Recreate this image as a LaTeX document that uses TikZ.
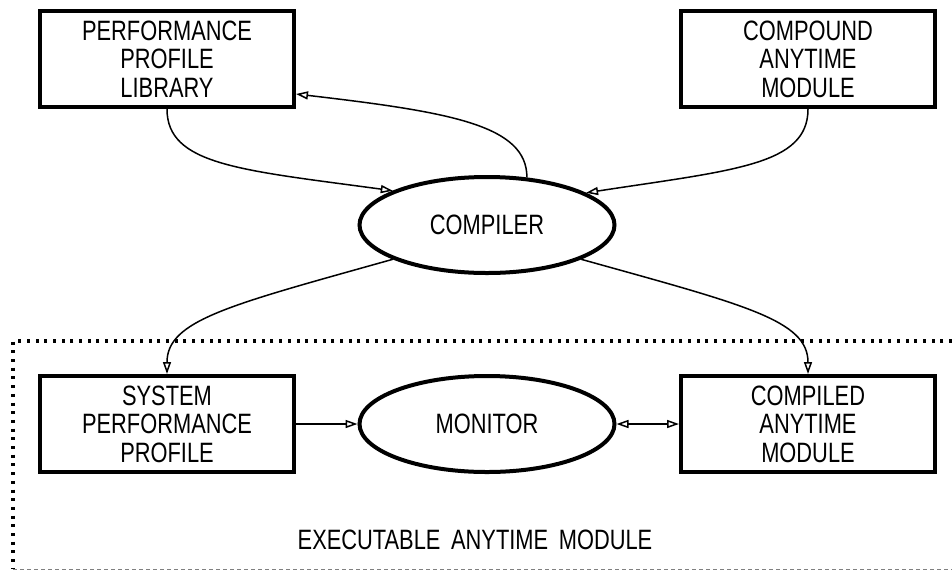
\documentclass[tikz,border=0pt]{standalone}
\usepackage{fontspec}
\setmainfont{Liberation Sans}[FakeStretch=0.78]
\usetikzlibrary{arrows.meta,shapes.geometric}
\begin{document}
\begin{tikzpicture}[x=1pt,y=-1pt,
  font=\fontsize{28}{28.5}\selectfont,
  boxnode/.style={draw, line width=4pt, rectangle, minimum width=254pt, minimum height=96pt, inner sep=0pt, align=center},
  ellnode/.style={draw, line width=4pt, ellipse, minimum width=255pt, minimum height=96pt, inner sep=0pt, align=center},
  conn/.style={line width=1.5pt, -{Triangle[open, length=12pt, width=8pt]}},
  bconn/.style={line width=1.5pt, {Triangle[open, length=12pt, width=8pt]}-{Triangle[open, length=12pt, width=8pt]}},
  framedot/.style={line width=3.5pt, dash pattern=on 3pt off 5.7pt},
  framedash/.style={line width=1pt, gray, dash pattern=on 4pt off 3pt}
]
\useasboundingbox (0,0) rectangle (952,571);
% frame
\coordinate (fTR) at (952,341);
\coordinate (fTL) at (13,341);
\coordinate (fBL) at (13,569);
\coordinate (fBR) at (952,569);
\draw[framedot] (fTR) -- (fTL) -- (fBL);
\draw[framedash] (fBL) -- (fBR);
% nodes
\node[boxnode] (ppl) at (167,59) {PERFORMANCE\\PROFILE\\LIBRARY};
\node[boxnode] (cam) at (808,59) {COMPOUND\\ANYTIME\\MODULE};
\node[ellnode] (comp) at (487,225) {COMPILER};
\node[boxnode] (spp) at (167,424) {SYSTEM\\PERFORMANCE\\PROFILE};
\node[ellnode] (mon) at (487,424) {MONITOR};
\node[boxnode] (cmp) at (808,424) {COMPILED\\ANYTIME\\MODULE};
\node (lbl) at (475,540) {EXECUTABLE\hspace{0.38em}ANYTIME\hspace{0.38em}MODULE};
% connectors
\draw[conn] (ppl.south) .. controls (167,165) and (240,170) .. (comp.160);
\draw[conn] (comp.50) .. controls (527,125) and (450,112) .. ([yshift=-35pt]ppl.east);
\draw[conn] (cam.south) .. controls (808,165) and (735,170) .. (comp.18);
\draw[conn] (comp.200) .. controls (230,305) and (167,320) .. (spp.north);
\draw[conn] (comp.340) .. controls (745,305) and (808,320) .. (cmp.north);
\draw[conn] (spp.east) -- (mon.west);
\draw[bconn] (mon.east) -- (cmp.west);
\end{tikzpicture}
\end{document}
